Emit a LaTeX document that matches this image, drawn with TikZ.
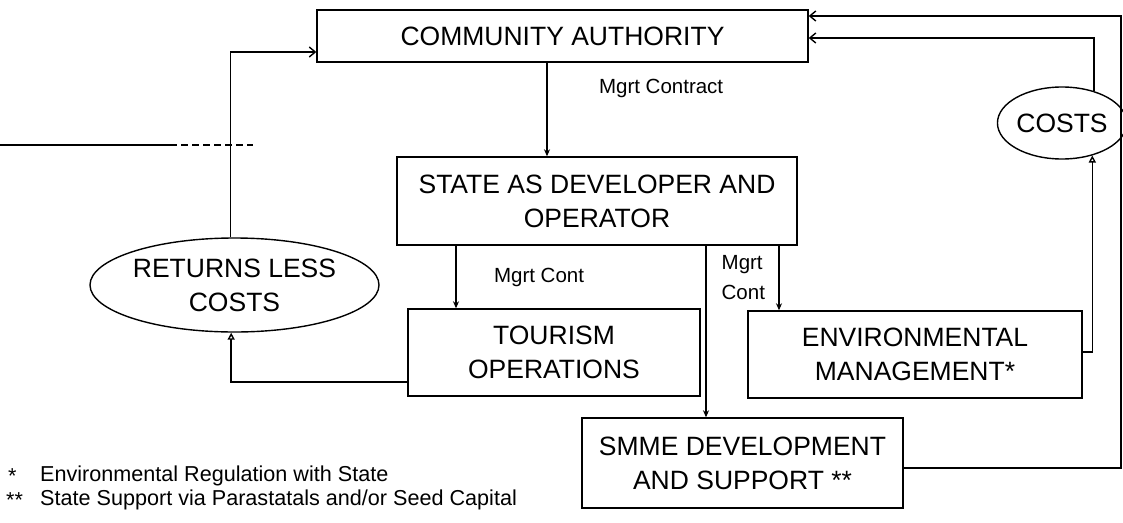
\documentclass[tikz,border=0pt]{standalone}
\usepackage{fontspec}
\setmainfont{Liberation Sans}
\usepackage{tikz}
\usetikzlibrary{shapes.geometric}
\usetikzlibrary{positioning, arrows.meta}

\begin{document}
\begin{tikzpicture}[
        x=1pt, y=-1pt,
        block/.style={rectangle, draw, line width=1.4pt, align=center, font=\fontsize{26.5}{34}\selectfont},
        oval/.style={ellipse, draw, line width=1.4pt, align=center, inner sep=0pt, font=\fontsize{26.5}{34}\selectfont},
        lbl/.style={font=\fontsize{20.5}{30}\selectfont},
        note/.style={anchor=west, inner sep=0pt, font=\fontsize{21.6}{25}\selectfont},
        arrow/.style={line width=1.4pt, -{Stealth[length=7pt, width=6pt]}},
        barb/.style={line width=1.4pt, -{Straight Barb[length=6pt, width=10pt]}},
        tri/.style={line width=1.4pt, -{Triangle[open, length=7pt, width=7pt]}}
    ]
        \useasboundingbox (0,0) rectangle (1123,522);

        \node[block, minimum width=491pt, minimum height=52pt] (authority) at (562.5,36) {COMMUNITY AUTHORITY};

        \node[block, minimum width=400pt, minimum height=88pt] (state) at (597,201) {STATE AS DEVELOPER AND\\OPERATOR};

        \node[block, minimum width=292pt, minimum height=87pt] (tourism) at (554,352.5) {TOURISM\\OPERATIONS};
        \node[block, minimum width=334pt, minimum height=87pt] (env) at (915,354.5) {ENVIRONMENTAL\\MANAGEMENT*};
        \node[block, minimum width=321pt, minimum height=90pt] (smme) at (742.5,463) {SMME DEVELOPMENT\\AND SUPPORT **};

        \node[oval, minimum width=289pt, minimum height=94pt] (returns) at (234.5,285) {RETURNS LESS\\COSTS};
        \node[oval, minimum width=120pt, minimum height=72pt] (costs) at (1062,123) {COSTS};

        \coordinate (rim) at (1121,16);
        \coordinate (stubA) at (0,145);
        \coordinate (stubB) at (170,145);
        \coordinate (stubC) at (253,145);

        \draw[arrow] ([xshift=-15.5pt]authority.south) -- ([xshift=-15.5pt]authority.south |- state.north)
            node[lbl, pos=0.27, right=48pt] {Mgrt Contract};
        \draw[arrow] ([xshift=-141pt]state.south) -- ([xshift=-141pt]state.south |- tourism.north)
            node[lbl, midway, right=34pt] {Mgrt Cont};
        \draw[arrow] ([xshift=109pt]state.south) -- ([xshift=109pt]state.south |- smme.north);
        \draw[arrow] ([xshift=182pt]state.south) -- ([xshift=182pt]state.south |- env.north)
            node[lbl, align=left, midway, left=10pt] {Mgrt\\Cont};

        \draw[tri] ([yshift=-29.5pt]tourism.west) -| (returns.266);
        \draw[barb] (returns.95) |- ([yshift=-16pt]authority.west);

        \draw[tri] ([yshift=2.5pt]env.east) -| (costs.-47);
        \draw[barb] (costs.45) |- ([yshift=-2pt]authority.east);
        \draw[barb] ([yshift=-5pt]smme.east) -| (rim) -- ([yshift=20pt]authority.east);

        \draw[line width=1.2pt] (stubA) -- (stubB);
        \draw[line width=1.2pt, dash pattern=on 7pt off 4pt] (stubB) -- (stubC);

        % notes
        \node[note] (mark1) at (8,476) {*};
        \node[note, right=32pt of mark1.west, anchor=west] (note1) {Environmental Regulation with State};
        \node[note] (mark2) at (6,500) {**};
        \node[note, right=34pt of mark2.west, anchor=west] (note2) {State Support via Parastatals and/or Seed Capital};
    \end{tikzpicture}
\end{document}
